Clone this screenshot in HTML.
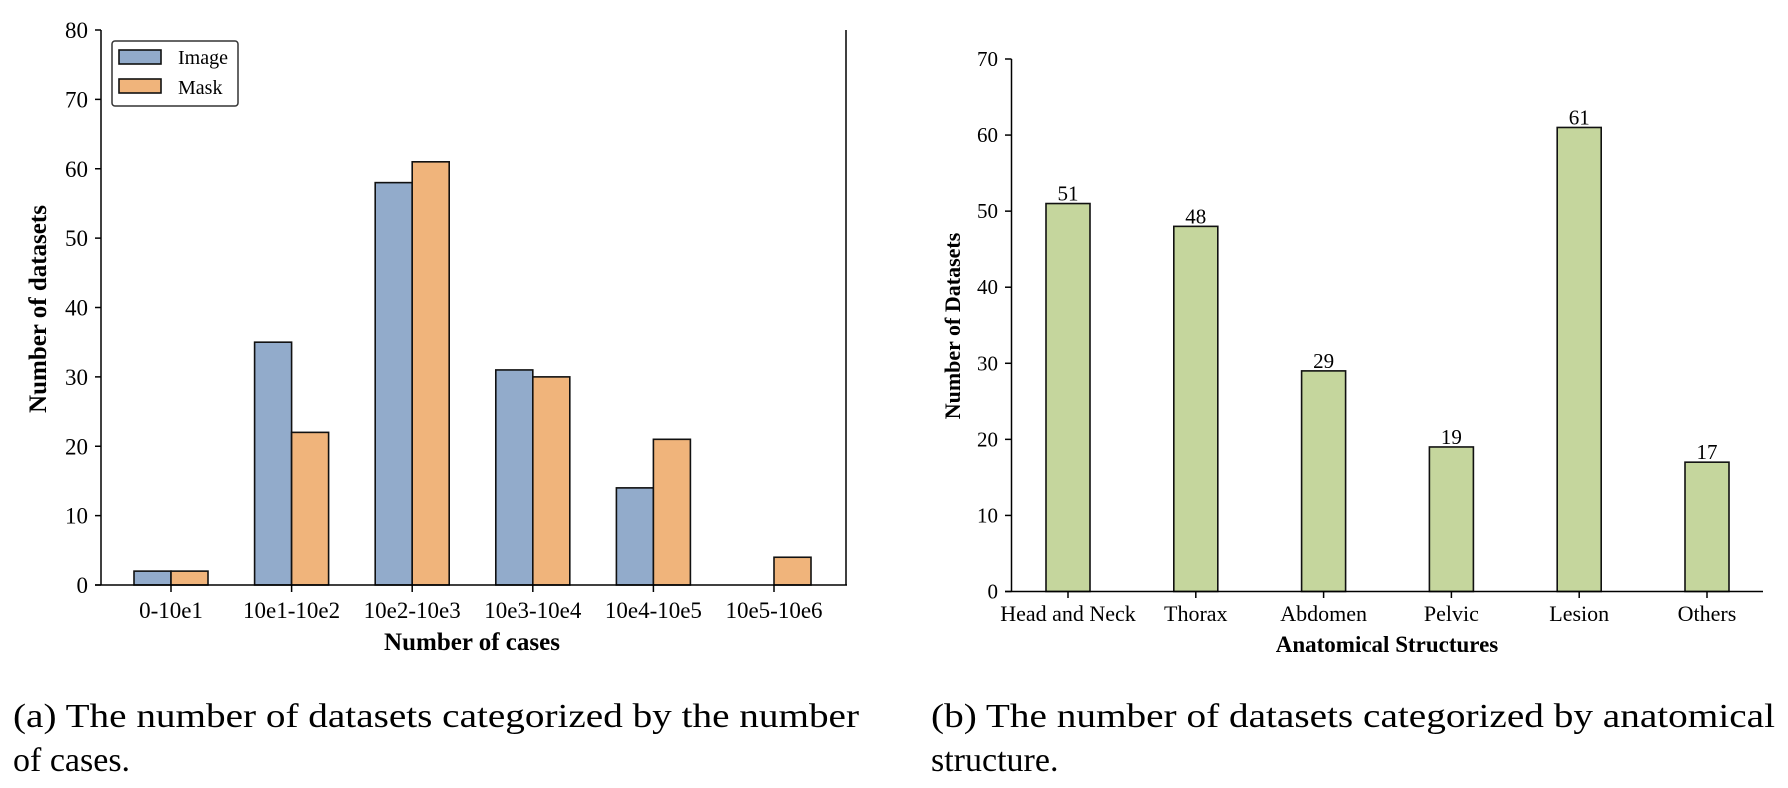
<!DOCTYPE html>
<html><head><meta charset="utf-8"><style>
html,body{margin:0;padding:0;background:#fff;}
svg{display:block;font-family:"Liberation Serif","Times New Roman",serif;}
</style></head><body>
<svg id="fig" width="1788" height="788" viewBox="0 0 1788 788" xmlns="http://www.w3.org/2000/svg">
<g id="left"></g>
<g id="right"></g>
<text x="13" y="727" font-size="34" textLength="846" lengthAdjust="spacingAndGlyphs">(a) The number of datasets categorized by the number</text>
<text x="13" y="771" font-size="34">of cases.</text>
<text x="931" y="727" font-size="34" textLength="844" lengthAdjust="spacingAndGlyphs">(b) The number of datasets categorized by anatomical</text>
<text x="931" y="771" font-size="34">structure.</text>
</svg>
<script>
const caseCats = ["0-10e1","10e1-10e2","10e2-10e3","10e3-10e4","10e4-10e5","10e5-10e6"];
const imageVals = [2,35,58,31,14,0];
const maskVals = [2,22,61,30,21,4];
const leftTicks = [0,10,20,30,40,50,60,70,80];
const anatCats = ["Head and Neck","Thorax","Abdomen","Pelvic","Lesion","Others"];
const anatVals = [51,48,29,19,61,17];
const rightTicks = [0,10,20,30,40,50,60,70];

const NS="http://www.w3.org/2000/svg";
function mk(parent,tag,attrs,text){const e=document.createElementNS(NS,tag);for(const k in attrs)e.setAttribute(k,attrs[k]);if(text!==undefined)e.textContent=text;parent.appendChild(e);return e;}

// Left chart
const L=document.getElementById('left');
const lx=i=>171+i*120.6;
const ly=v=>585-v*(555/80);
const bw=37;
leftTicks.forEach(t=>{
  const tk=mk(L,'line',{x1:95,x2:101,y1:ly(t),y2:ly(t),stroke:'#000','stroke-width':1.5});
  
  
  const lb=mk(L,'text',{x:88,y:ly(t)+8,'font-size':23,'text-anchor':'end'},t);
  
  
});
caseCats.forEach((c,i)=>{
  const b1=mk(L,'rect',{x:lx(i)-bw,y:ly(imageVals[i]),width:bw,height:ly(0)-ly(imageVals[i]),fill:'#92abcb',stroke:'#111','stroke-width':1.6});
  
  
  const b2=mk(L,'rect',{x:lx(i),y:ly(maskVals[i]),width:bw,height:ly(0)-ly(maskVals[i]),fill:'#f0b47b',stroke:'#111','stroke-width':1.6});
  
  
  const tk=mk(L,'line',{x1:lx(i),x2:lx(i),y1:585,y2:592,stroke:'#000','stroke-width':1.5});
  
  
  const lb=mk(L,'text',{x:lx(i),y:618,'font-size':23,'text-anchor':'middle'},c);
  
  
});
let e;
e=mk(L,'line',{x1:101,x2:101,y1:30,y2:585,stroke:'#000','stroke-width':1.5});


e=mk(L,'line',{x1:846,x2:846,y1:30,y2:585,stroke:'#000','stroke-width':1.5});


e=mk(L,'line',{x1:95,x2:847,y1:585,y2:585,stroke:'#000','stroke-width':1.5});


e=mk(L,'text',{x:472,y:650,'font-size':25,'font-weight':'bold','text-anchor':'middle'},'Number of cases');


e=mk(L,'text',{x:0,y:0,'font-size':25,'font-weight':'bold','text-anchor':'middle',transform:'translate(46,309) rotate(-90)'},'Number of datasets');


// legend
const lg=mk(L,'g',{});


mk(lg,'rect',{x:112,y:41,width:126,height:65,rx:3,fill:'#fff',stroke:'#333','stroke-width':1.5});
e=mk(lg,'rect',{x:119,y:50,width:42,height:14,fill:'#92abcb',stroke:'#111','stroke-width':1.6});


e=mk(lg,'text',{x:178,y:64,'font-size':20},'Image');


e=mk(lg,'rect',{x:119,y:79,width:42,height:14,fill:'#f0b47b',stroke:'#111','stroke-width':1.6});


e=mk(lg,'text',{x:178,y:94,'font-size':20},'Mask');



// Right chart
const R=document.getElementById('right');
const rx=i=>1068+i*127.8;
const ry=v=>591.5-v*(532.5/70);
const rbw=44;
rightTicks.forEach(t=>{
  const tk=mk(R,'line',{x1:1005,x2:1011.5,y1:ry(t),y2:ry(t),stroke:'#000','stroke-width':1.5});
  
  
  const lb=mk(R,'text',{x:998,y:ry(t)+7,'font-size':21,'text-anchor':'end'},t);
  
  
});
anatCats.forEach((c,i)=>{
  const b=mk(R,'rect',{x:rx(i)-rbw/2,y:ry(anatVals[i]),width:rbw,height:ry(0)-ry(anatVals[i]),fill:'#c5d69d',stroke:'#111','stroke-width':1.6});
  
  
  const v=mk(R,'text',{x:rx(i),y:ry(anatVals[i])-3,'font-size':21,'text-anchor':'middle'},anatVals[i]);
  
  
  const tk=mk(R,'line',{x1:rx(i),x2:rx(i),y1:591.5,y2:598,stroke:'#000','stroke-width':1.5});
  
  
  const lb=mk(R,'text',{x:rx(i),y:621,'font-size':22,'text-anchor':'middle'},c);
  
  
});
e=mk(R,'line',{x1:1011.5,x2:1011.5,y1:59,y2:591.5,stroke:'#000','stroke-width':1.5});


e=mk(R,'line',{x1:1005,x2:1763,y1:591.5,y2:591.5,stroke:'#000','stroke-width':1.5});


e=mk(R,'text',{x:1387,y:652,'font-size':23,'font-weight':'bold','text-anchor':'middle'},'Anatomical Structures');


e=mk(R,'text',{x:0,y:0,'font-size':22,'font-weight':'bold','text-anchor':'middle',transform:'translate(960,326) rotate(-90)'},'Number of Datasets');


</script>
</body></html>
